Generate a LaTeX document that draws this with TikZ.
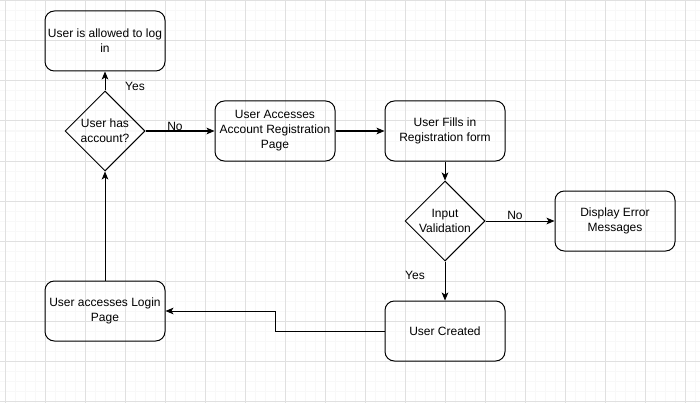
\documentclass[tikz,border=0pt]{standalone}
\usepackage{fontspec}
\setmainfont{Liberation Sans}
\usepackage{xcolor}
\usetikzlibrary{shapes.geometric,arrows.meta}

\definecolor{gridmajor}{HTML}{E0E0E0}
\definecolor{gridminor}{HTML}{F8F8F8}
\newcommand{\flowfont}{\fontsize{9}{11.25}\selectfont}

\begin{document}
\begin{tikzpicture}[x=0.75pt, y=-0.75pt,
  st/.style={draw, rounded corners=7pt, align=center, font=\flowfont,
             minimum width=90pt, minimum height=45pt, inner sep=2pt, line width=0.75pt},
  dec/.style={draw, diamond, aspect=1, align=center, font=\flowfont,
              minimum width=60pt, minimum height=60pt, inner sep=0pt, line width=0.75pt},
  lab/.style={font=\flowfont, inner sep=0pt},
  dr/.style={-{Stealth[length=6pt, width=5pt, inset=1.5pt]}, line width=0.75pt}]

% ---- page and grid --------------------------------------------------------
\useasboundingbox (0,0) rectangle (700,403);
\fill[white] (0,0) rectangle (700,403);
\foreach \x in {5,15,...,695} \draw[gridminor, line width=0.75pt] (\x,0) -- (\x,403);
\foreach \y in {1,11,...,401} \draw[gridminor, line width=0.75pt] (0,\y) -- (700,\y);
\foreach \x in {5,45,...,685} \draw[gridmajor, line width=0.75pt] (\x,0) -- (\x,403);
\foreach \y in {1,41,...,401} \draw[gridmajor, line width=0.75pt] (0,\y) -- (700,\y);

% ---- login side -----------------------------------------------------------
\node[st] (UL) at (105,41) {User is allowed to log\\in};
\node[dec] (UA) at (105,131) {User has\\account?};
\node[st] (LP) at (105,311) {User accesses Login\\Page};

% ---- registration side ----------------------------------------------------
\node[st] (AR) at (275,131) {User Accesses\\Account Registration\\Page};
\node[st] (RF) at (445,131) {User Fills in\\Registration form};
\node[dec] (IV) at (445,221) {Input\\Validation};
\node[st] (EM) at (615,221) {Display Error\\Messages};
\node[st] (UC) at (445,331) {User Created};
\coordinate (bend) at (275,331);

\draw[dr] (UA) -- (UL);
\draw[dr] (UA) -- (AR);
\draw[dr] (AR) -- (RF);
\draw[dr] (RF) -- (IV);
\draw[dr] (IV) -- (EM);
\draw[dr] (IV) -- (UC);
\draw[dr] (UC.west) -- (bend) |- (LP.east);
\draw[dr] (LP) -- (UA);

\node[lab] (yes1) at (135,86) {Yes};
\node[lab] (no1) at (175,126) {No};
\node[lab] (no2) at (515,215) {No};
\node[lab] (yes2) at (415,275) {Yes};

\end{tikzpicture}
\end{document}
